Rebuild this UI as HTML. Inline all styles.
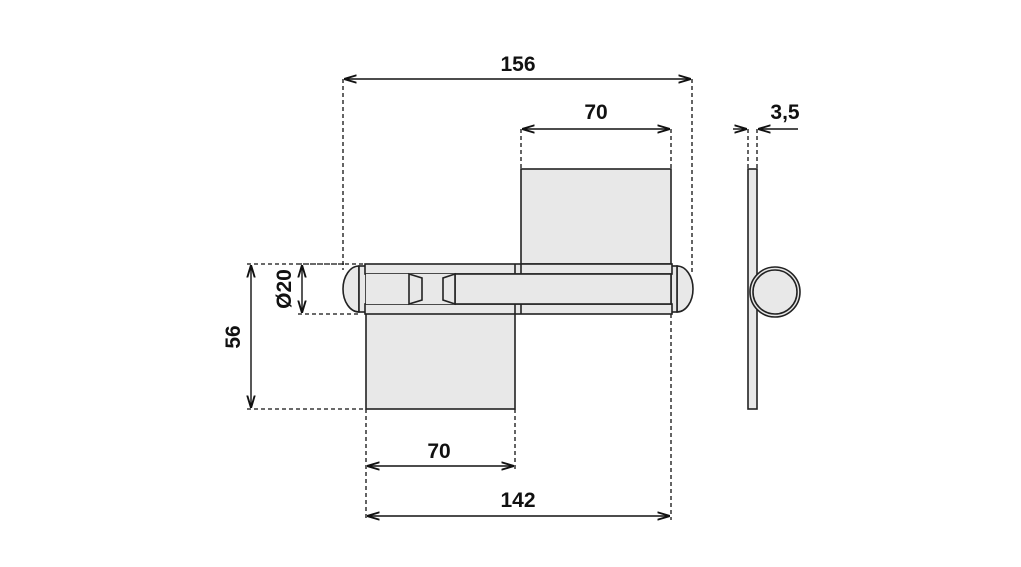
<!DOCTYPE html><html><head><style>body{margin:0;background:#fff}svg{display:block}text{font-family:"Liberation Sans",sans-serif;font-size:21px;font-weight:bold;fill:#111}</style></head><body>
<svg width="1021" height="567" viewBox="0 0 1021 567">
<defs><marker id="a" viewBox="0 0 10 10" refX="10" refY="5" markerWidth="9" markerHeight="9" orient="auto-start-reverse"><path d="M0,2 L10,5 L0,8" fill="none" stroke="#111" stroke-width="1.5"/></marker></defs>
<g stroke="#111" stroke-width="1.3" stroke-dasharray="4,3" fill="none">
<path d="M343,79V270M692,79V272M521,129V169M671,129V169M247,264H365M247,409H366M298,314H360M298,264H345M366,409V520M515,409V470M671,314V520M748,129V169M757,129V169"/>
</g>
<g stroke="#111" stroke-width="1.4" fill="none" marker-start="url(#a)" marker-end="url(#a)">
<line x1="344" y1="79" x2="691" y2="79"/><line x1="522" y1="129" x2="670" y2="129"/>
<line x1="251" y1="265" x2="251" y2="408"/><line x1="302" y1="265" x2="302" y2="313"/>
<line x1="367" y1="466" x2="514" y2="466"/><line x1="367" y1="516" x2="670" y2="516"/>
</g>
<g stroke="#111" stroke-width="1.4"><line x1="733" y1="129" x2="747" y2="129" marker-end="url(#a)"/><line x1="798" y1="129" x2="758" y2="129" marker-end="url(#a)"/></g>
<g fill="#e8e8e8" stroke="#222" stroke-width="1.6">
<rect x="521" y="169" width="150" height="95"/><rect x="366" y="304" width="149" height="105"/>
<path d="M359,266 A16,23 0 0 0 359,312 Z"/><path d="M677,266 A16,23 0 0 1 677,312 Z"/>
<rect x="359" y="266" width="7" height="46"/><rect x="671" y="266" width="6" height="46"/>
<rect x="365" y="264" width="307" height="10"/><rect x="365" y="304" width="307" height="10"/>
<rect x="366" y="274" width="305" height="30" stroke="none"/>
<rect x="455" y="274" width="216" height="30"/>
<path d="M409,274 L422,278 V300 L409,304 Z"/><path d="M455,274 L443,278 V300 L455,304 Z"/>
<line x1="515" y1="264" x2="515" y2="274"/><line x1="521" y1="264" x2="521" y2="274"/>
<line x1="515" y1="304" x2="515" y2="314"/><line x1="521" y1="304" x2="521" y2="314"/>
<rect x="748" y="169" width="9" height="240"/>
<circle cx="775" cy="292" r="25"/><circle cx="775" cy="292" r="22"/>
</g>
<text x="518" y="71" text-anchor="middle">156</text>
<text x="596" y="119" text-anchor="middle">70</text>
<text x="785" y="119" text-anchor="middle">3,5</text>
<text x="439" y="458" text-anchor="middle">70</text>
<text x="518" y="507" text-anchor="middle">142</text>
<text transform="translate(240,337) rotate(-90)" text-anchor="middle">56</text>
<text transform="translate(291,289) rotate(-90)" text-anchor="middle">Ø20</text>
</svg></body></html>
